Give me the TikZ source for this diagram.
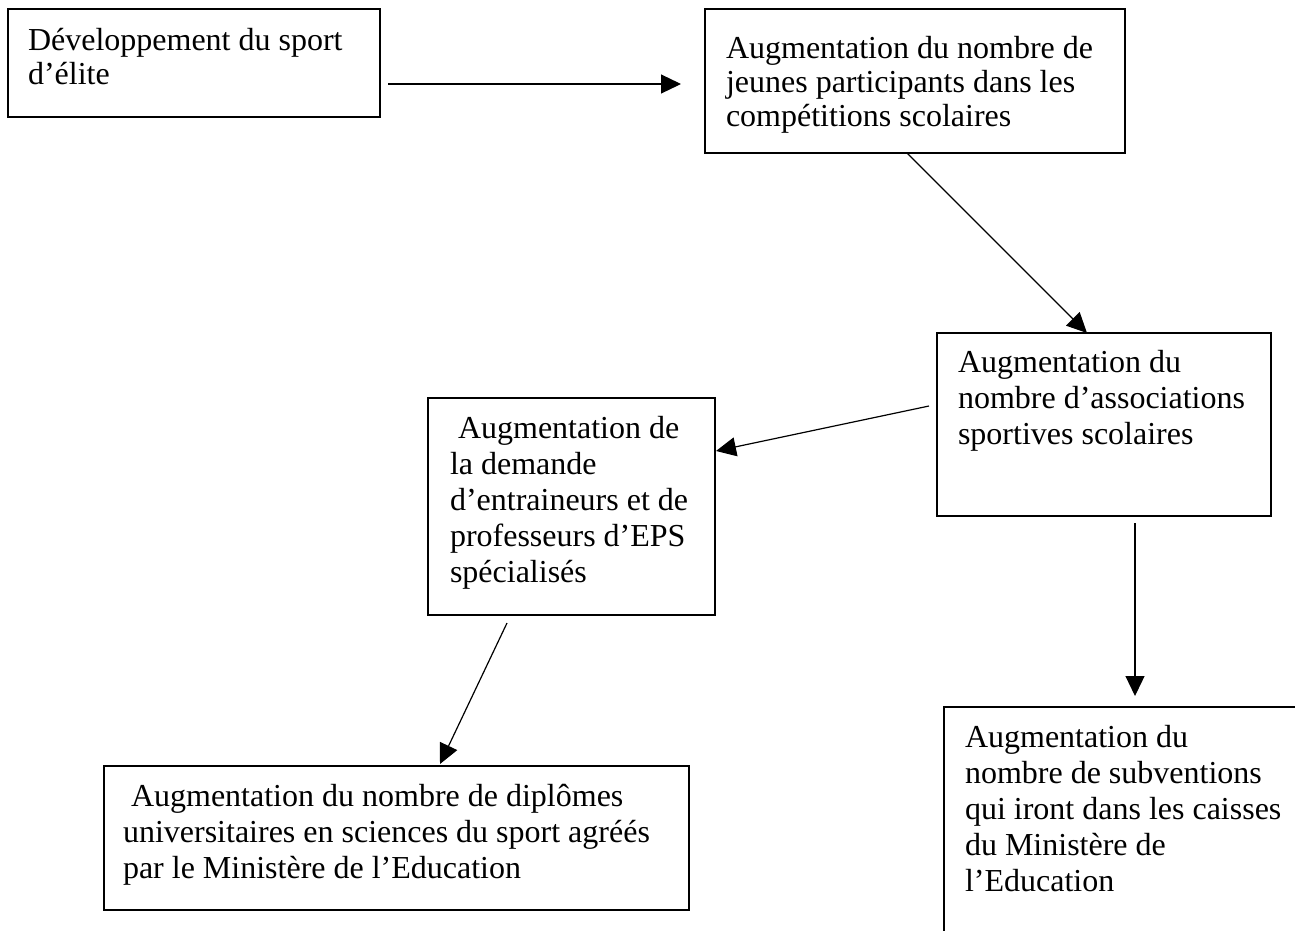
\documentclass[tikz,border=0pt]{standalone}
\usepackage{fontspec}
\setmainfont{Liberation Serif}
\usetikzlibrary{arrows.meta}
\newcommand{\boxtxt}[3]{\parbox[c][#2][t]{#1}{\raggedright\strut #3}}
\begin{document}
\begin{tikzpicture}[x=1pt,y=-1pt,
  box/.style={draw=black, line width=1.4pt, anchor=north west, inner xsep=#1, outer sep=0pt,
    font=\fontsize{32}{36}\selectfont},
  box/.default=21pt,
  tight/.style={font=\fontsize{32}{34}\selectfont},
  conn/.style={line width=1.2pt, -{Triangle[length=20pt,width=19pt]}}]
\useasboundingbox (0,0) rectangle (1295,930);

\node[box=20pt, tight, inner ysep=17.2pt] (b1) at (8,9)
  {\boxtxt{332pt}{73.6pt}{\mbox{Développement du sport}\\\mbox{d’élite}}};

\node[box=21pt, tight, inner ysep=25.2pt] (b2) at (705,9)
  {\boxtxt{378pt}{93.6pt}{\mbox{Augmentation du nombre de}\\\mbox{jeunes participants dans les}\\\mbox{compétitions scolaires}}};

\node[box=21pt, inner ysep=13.8pt] (b3) at (937,333)
  {\boxtxt{292pt}{155.4pt}{\mbox{Augmentation du}\\\mbox{nombre d’associations}\\\mbox{sportives scolaires}}};

\node[box=22pt, inner ysep=14.8pt] (b4) at (428,398)
  {\boxtxt{243pt}{187.4pt}{\mbox{\hspace{8pt}Augmentation de}\\\mbox{la demande}\\\mbox{d’entraineurs et de}\\\mbox{professeurs d’EPS}\\\mbox{spécialisés}}};

\node[box=21pt, inner ysep=14.8pt] (b5) at (944,707)
  {\boxtxt{328pt}{230.4pt}{\mbox{Augmentation du}\\\mbox{nombre de subventions}\\\mbox{qui iront dans les caisses}\\\mbox{du Ministère de}\\\mbox{l’Education}}};

\node[box=19pt, inner ysep=14.8pt] (b6) at (104,766)
  {\boxtxt{547pt}{114.4pt}{\mbox{\hspace{8pt}Augmentation du nombre de diplômes}\\\mbox{universitaires en sciences du sport agréés}\\\mbox{par le Ministère de l’Education}}};

\coordinate (a1s) at (388,84);
\coordinate (a1e) at (681,84);
\coordinate (a2s) at (907,153);
\coordinate (a2e) at (1087,333);
\coordinate (a3s) at (929,406);
\coordinate (a3e) at (716,451);
\coordinate (a4s) at (1135,523);
\coordinate (a4e) at (1135,696);
\coordinate (a5s) at (507,623);
\coordinate (a5e) at (440,764);

\draw[conn] (a1s) -- (a1e);
\draw[conn] (a2s) -- (a2e);
\draw[conn] (a3s) -- (a3e);
\draw[conn] (a4s) -- (a4e);
\draw[conn] (a5s) -- (a5e);
\end{tikzpicture}
\end{document}
